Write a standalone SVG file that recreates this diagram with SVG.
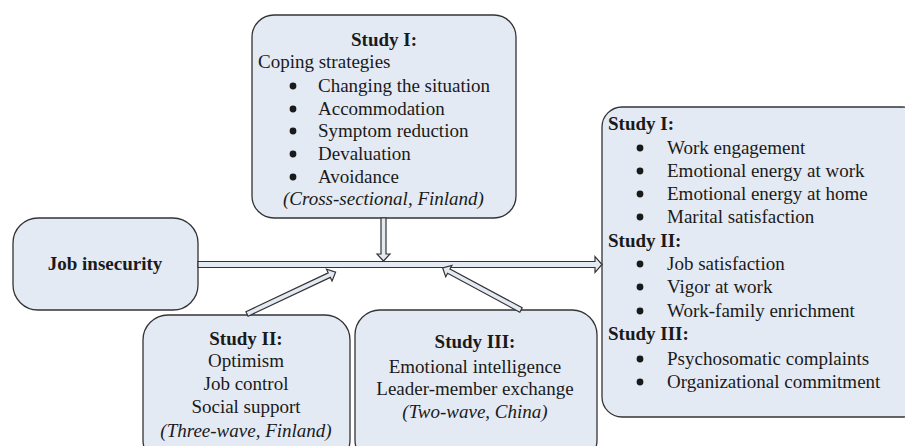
<svg xmlns="http://www.w3.org/2000/svg" width="905" height="446" viewBox="0 0 905 446">
<style>
.box{fill:#e4eaf4;stroke:#333;stroke-width:1.3}
.t{font-family:"Liberation Serif","Times New Roman",serif;font-size:19px;fill:#1a1a1a}
.b{font-weight:bold}
.i{font-style:italic}
.c{text-anchor:middle}
.bul{fill:#1a1a1a}
.arr{fill:#e4eaf4;stroke:#333;stroke-width:1.2;stroke-linejoin:miter}
</style>
<defs>
<circle id="dot" r="3.4" class="bul"/>
</defs>
<rect width="905" height="446" fill="#fff"/>

<g id="study1-coping">
<rect class="box" x="252" y="15" width="264" height="203" rx="22"/>
<text class="t b c" x="384" y="46">Study I:</text>
<text class="t" x="258" y="68">Coping strategies</text>
<use href="#dot" x="293" y="86"/><text class="t" x="318" y="92">Changing the situation</text>
<use href="#dot" x="293" y="109"/><text class="t" x="318" y="115">Accommodation</text>
<use href="#dot" x="293" y="131"/><text class="t" x="318" y="137">Symptom reduction</text>
<use href="#dot" x="293" y="154"/><text class="t" x="318" y="160">Devaluation</text>
<use href="#dot" x="293" y="177"/><text class="t" x="318" y="183">Avoidance</text>
<text class="t i" x="283" y="205">(Cross-sectional, Finland)</text>
</g>

<g id="job-insecurity">
<rect class="box" x="13" y="218" width="185" height="92" rx="25"/>
<text class="t b c" x="105" y="270">Job insecurity</text>
</g>

<g id="study2-moderators">
<rect class="box" x="143" y="315" width="207" height="150" rx="25"/>
<text class="t b c" x="246" y="345">Study II:</text>
<text class="t c" x="246" y="367">Optimism</text>
<text class="t c" x="246" y="390">Job control</text>
<text class="t c" x="246" y="413">Social support</text>
<text class="t i c" x="246" y="437">(Three-wave, Finland)</text>
</g>

<g id="study3-moderators">
<rect class="box" x="355" y="310" width="242" height="155" rx="25"/>
<text class="t b c" x="475" y="348">Study III:</text>
<text class="t c" x="475" y="373">Emotional intelligence</text>
<text class="t c" x="475" y="395">Leader-member exchange</text>
<text class="t i c" x="475" y="418">(Two-wave, China)</text>
</g>

<g id="outcomes">
<rect class="box" x="602" y="107" width="320" height="310" rx="20"/>
<text class="t b" x="608" y="130">Study I:</text>
<use href="#dot" x="640" y="148"/><text class="t" x="667" y="154">Work engagement</text>
<use href="#dot" x="640" y="171"/><text class="t" x="667" y="177">Emotional energy at work</text>
<use href="#dot" x="640" y="194"/><text class="t" x="667" y="200">Emotional energy at home</text>
<use href="#dot" x="640" y="217"/><text class="t" x="667" y="223">Marital satisfaction</text>
<text class="t b" x="608" y="247">Study II:</text>
<use href="#dot" x="640" y="264"/><text class="t" x="667" y="270">Job satisfaction</text>
<use href="#dot" x="640" y="287"/><text class="t" x="667" y="293">Vigor at work</text>
<use href="#dot" x="640" y="311"/><text class="t" x="667" y="317">Work-family enrichment</text>
<text class="t b" x="608" y="340">Study III:</text>
<use href="#dot" x="640" y="359"/><text class="t" x="667" y="365">Psychosomatic complaints</text>
<use href="#dot" x="640" y="382"/><text class="t" x="667" y="388">Organizational commitment</text>
</g>

<g id="connectors">
<polygon class="arr" transform="translate(198,264.5)" points="0,-3 397,-3 397,-8 404,0 397,8 397,3 0,3"/>
<polygon class="arr" transform="translate(383.5,218) rotate(90)" points="0,-2.5 36,-2.5 36,-6.5 43,0 36,6.5 36,2.5 0,2.5"/>
<polygon class="arr" transform="translate(247,314) rotate(-25.3)" points="0,-2.5 91,-2.5 91,-6.5 98,0 91,6.5 91,2.5 0,2.5"/>
<polygon class="arr" transform="translate(521,310) rotate(208.3)" points="0,-2.5 82,-2.5 82,-6.5 89,0 82,6.5 82,2.5 0,2.5"/>
</g>
</svg>
